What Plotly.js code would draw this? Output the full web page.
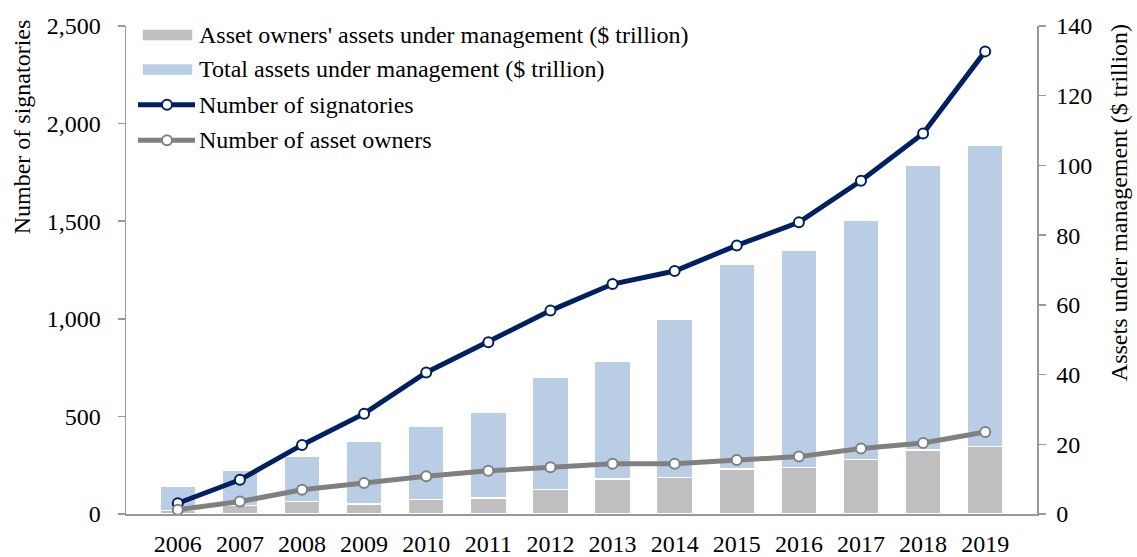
<!DOCTYPE html>
<html>
<head>
<meta charset="utf-8">
<script src="https://cdn.plot.ly/plotly-3.0.1.min.js"></script>
<style>html,body{margin:0;padding:0;background:#fff;}#chart{width:1137px;height:557px;}</style>
</head>
<body>
<div id="chart"></div>
<script>
var years = ['2006','2007','2008','2009','2010','2011','2012','2013','2014','2015','2016','2017','2018','2019'];
var ownersAUM = [1.0, 2.4, 3.6, 2.9, 4.1, 4.6, 7.0, 10.1, 10.5, 12.9, 13.4, 15.6, 18.3, 19.4];
var totalAUM = [7.0, 10.1, 12.9, 18.1, 21.0, 24.5, 32.3, 33.8, 45.3, 58.8, 62.3, 68.6, 81.8, 86.4];
var signatories = [55, 175, 354, 514, 725, 880, 1042, 1178, 1245, 1376, 1494, 1707, 1949, 2370];
var assetOwners = [22, 64, 124, 159, 193, 221, 239, 257, 258, 277, 294, 335, 364, 420];
var leftTicks = [0, 500, 1000, 1500, 2000, 2500];
var rightTicks = [0, 20, 40, 60, 80, 100, 120, 140];

var legendLabels = [
  "Asset owners' assets under management ($ trillion)",
  "Total assets under management ($ trillion)",
  "Number of signatories",
  "Number of asset owners"
];

var FONT = 'Liberation Serif, Times New Roman, serif';
var navy = '#002060', grayLine = '#808080', grayBar = '#BFBFBF', blueBar = '#B9CDE5', axisCol = '#999999';

var traces = [
  {type:'bar', x:years, y:ownersAUM, yaxis:'y', name:legendLabels[0],
   marker:{color:grayBar, line:{color:'#ffffff', width:1.5}}, showlegend:false, hoverinfo:'y'},
  {type:'bar', x:years, y:totalAUM, yaxis:'y', name:legendLabels[1],
   marker:{color:blueBar, line:{color:'#ffffff', width:1.5}}, showlegend:false, hoverinfo:'y'},
  {type:'scatter', mode:'lines+markers', x:years, y:signatories, yaxis:'y2', name:legendLabels[2],
   line:{color:navy, width:5}, marker:{size:10, color:'#ffffff', line:{color:navy, width:2}}, showlegend:false},
  {type:'scatter', mode:'lines+markers', x:years, y:assetOwners, yaxis:'y2', name:legendLabels[3],
   line:{color:grayLine, width:5}, marker:{size:10, color:'#ffffff', line:{color:grayLine, width:2}}, showlegend:false}
];

// legend geometry helpers (pixel -> paper)
var L=126, T=25.5, W=911, H=489;
function px(x){return (x-L)/W;}
function py(y){return (T+H-y)/H;}
var rowY = [34.5, 69, 104.5, 140];

var shapes = [
  {type:'rect', xref:'paper', yref:'paper', x0:px(142), x1:px(193), y0:py(rowY[0]+6), y1:py(rowY[0]-6),
   fillcolor:grayBar, line:{color:'#ffffff', width:1.5}},
  {type:'rect', xref:'paper', yref:'paper', x0:px(142), x1:px(193), y0:py(rowY[1]+6), y1:py(rowY[1]-6),
   fillcolor:blueBar, line:{color:'#ffffff', width:1.5}},
  {type:'line', xref:'paper', yref:'paper', x0:px(138), x1:px(195), y0:py(rowY[2]), y1:py(rowY[2]),
   line:{color:navy, width:5}},
  {type:'circle', xref:'paper', yref:'paper', xsizemode:'pixel', ysizemode:'pixel',
   xanchor:px(167), yanchor:py(rowY[2]), x0:-5, x1:5, y0:-5, y1:5,
   fillcolor:'#ffffff', line:{color:navy, width:2}},
  {type:'line', xref:'paper', yref:'paper', x0:px(138), x1:px(195), y0:py(rowY[3]), y1:py(rowY[3]),
   line:{color:grayLine, width:5}},
  {type:'circle', xref:'paper', yref:'paper', xsizemode:'pixel', ysizemode:'pixel',
   xanchor:px(167), yanchor:py(rowY[3]), x0:-5, x1:5, y0:-5, y1:5,
   fillcolor:'#ffffff', line:{color:grayLine, width:2}}
];

var annotations = legendLabels.map(function(t,i){
  return {xref:'paper', yref:'paper', x:px(197), y:py(rowY[i]), xanchor:'left', yanchor:'middle',
    text:t, showarrow:false, font:{family:FONT, size:24, color:'#000'}};
});
annotations.push({xref:'paper', yref:'paper', x:px(22), y:py(127), xanchor:'center', yanchor:'middle',
  textangle:-90, text:'Number of signatories', showarrow:false, font:{family:FONT, size:24, color:'#000'}});
annotations.push({xref:'paper', yref:'paper', x:px(1119), y:py(203), xanchor:'center', yanchor:'middle',
  textangle:-90, text:'Assets under management ($ trillion)', showarrow:false, font:{family:FONT, size:24, color:'#000'}});

var layout = {
  width:1137, height:557,
  margin:{l:126, r:100, t:25.5, b:42.5, pad:0},
  paper_bgcolor:'#ffffff', plot_bgcolor:'#ffffff',
  barmode:'stack', bargap:0.42,
  font:{family:FONT, size:24, color:'#000'},
  xaxis:{type:'category', showline:true, linecolor:axisCol, linewidth:1.5, ticks:'', showgrid:false,
    zeroline:false, tickfont:{family:FONT, size:24, color:'#000'}, ticklabelstandoff:8},
  yaxis:{side:'right', range:[0,140], tickvals:rightTicks, showline:true, linecolor:axisCol, linewidth:1.5,
    ticks:'outside', ticklen:7, tickcolor:axisCol, tickwidth:1.5, showgrid:false, zeroline:false,
    tickfont:{family:FONT, size:24, color:'#000'}, ticklabelstandoff:6},
  yaxis2:{overlaying:'y', side:'left', range:[0,2500], tickvals:leftTicks, tickformat:',d', showline:true,
    linecolor:axisCol, linewidth:1.5, ticks:'outside', ticklen:7, tickcolor:axisCol, tickwidth:1.5,
    showgrid:false, zeroline:false, tickfont:{family:FONT, size:24, color:'#000'}, ticklabelstandoff:12},
  shapes:shapes,
  annotations:annotations,
  showlegend:false
};

Plotly.newPlot('chart', traces, layout, {displayModeBar:false, staticPlot:true});
</script>
</body>
</html>
